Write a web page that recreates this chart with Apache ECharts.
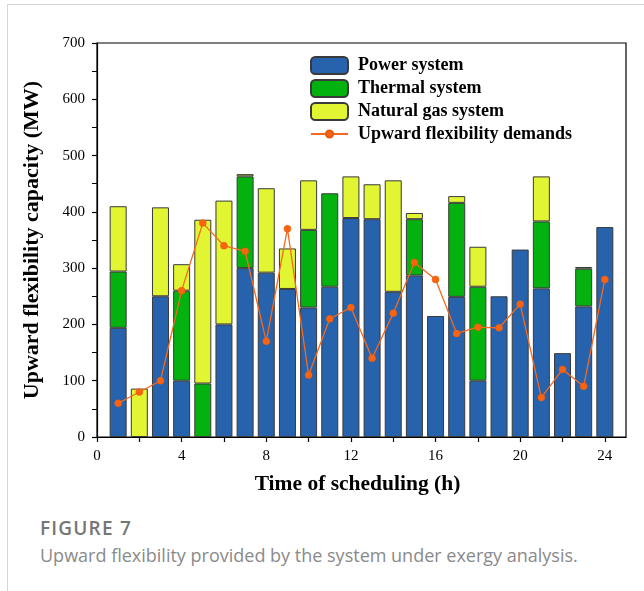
<!DOCTYPE html>
<html>
<head>
<meta charset="utf-8">
<script src="https://cdn.jsdelivr.net/npm/echarts@6/dist/echarts.min.js"></script>
<style>
  html, body { margin: 0; padding: 0; background: #fff; }
  #wrap { position: relative; width: 644px; height: 591px; overflow: hidden; }
  #frame { position: absolute; left: 7px; top: 4px; width: 700px; height: 700px; border-left: 1px solid #d6d6d6; border-top: 1px solid #d6d6d6; }
  #chart { position: absolute; left: 0; top: 0; width: 644px; height: 500px; }
  #cap1 { position: absolute; left: 40px; top: 515px; font-family: "Open Sans", sans-serif; font-size: 19px; letter-spacing: 1.2px; color: #767676; font-weight: 600; line-height: 26px; }
  #cap2 { position: absolute; left: 40px; top: 542px; font-family: "Open Sans", sans-serif; font-size: 18px; color: #8a8a8a; line-height: 26px; }
</style>
</head>
<body>
<div id="wrap">
  <div id="frame"></div>
  <div id="chart"></div>
  <div id="cap1">FIGURE 7</div>
  <div id="cap2">Upward flexibility provided by the system under exergy analysis.</div>
</div>
<script>
const hours = [1,2,3,4,5,6,7,8,9,10,11,12,13,14,15,16,17,18,19,20,21,22,23,24];
const powerSystem   = [194,0,250,100,0,200,300,292,263,230,267,389,387,258,287,215,249,100,250,333,264,149,232,373];
const thermalSystem = [100,0,0,160,95,0,163,0,0,138,166,0,0,0,100,0,167,167,0,0,119,0,67,0];
const gasSystem     = [116,86,158,47,291,220,4,150,72,88,0,74,62,198,11,0,12,71,0,0,80,0,3,0];
const demands       = [60,80,100,260,380,340,330,170,370,110,210,230,140,220,310,280,184,195,194,236,70,120,90,280];
const xTickLabels = ['0','4','8','12','16','20','24'];

// axis positions 0..25 (hour slots), bars sit on 1..24
const axisCats = [];
for (let h = 0; h <= 25; h++) axisCats.push(String(h));
const place = (arr) => axisCats.map((c) => {
  const i = hours.indexOf(Number(c));
  return (i < 0 || arr[i] === 0) ? '-' : arr[i];
});

const serif = '"Liberation Serif", "Times New Roman", serif';
const chart = echarts.init(document.getElementById('chart'), null, {renderer: 'canvas'});
const barStyle = (c) => ({ color: c, borderColor: '#3a3a3a', borderWidth: 1 });
const legendText = { fontFamily: serif, fontSize: 18, fontWeight: 'bold', color: '#000', padding: [0, 0, 0, 5] };

chart.setOption({
  animation: false,
  grid: { left: 97, right: 18, top: 43, bottom: 63, show: true, borderColor: '#000', borderWidth: 1.2 },
  legend: [
    {
      orient: 'vertical', left: 310, top: 56, padding: 0, itemWidth: 37, itemHeight: 17, itemGap: 4,
      textStyle: legendText,
      data: ['Power system', 'Thermal system', 'Natural gas system']
    },
    {
      orient: 'vertical', left: 310, top: 125, padding: 0, itemWidth: 37, itemHeight: 9, itemGap: 4,
      textStyle: legendText,
      data: ['Upward flexibility demands']
    }
  ],
  xAxis: {
    type: 'category', data: axisCats, boundaryGap: false,
    name: 'Time of scheduling (h)', nameLocation: 'middle', nameGap: 36,
    nameTextStyle: { fontFamily: serif, fontSize: 21.5, fontWeight: 'bold', color: '#000', padding: [0, 8, 0, 0] },
    axisLine: { lineStyle: { color: '#000', width: 1.2 } },
    axisTick: { show: true, length: 5, interval: 1, lineStyle: { color: '#000', width: 1.2 } },
    axisLabel: { fontFamily: serif, fontSize: 15, color: '#000', margin: 12,
      interval: (idx, v) => xTickLabels.includes(v) },
    splitLine: { show: false }
  },
  yAxis: {
    type: 'value', min: 0, max: 700, interval: 100,
    name: 'Upward flexibility capacity (MW)', nameLocation: 'middle', nameGap: 54, nameRotate: 90,
    nameTextStyle: { fontFamily: serif, fontSize: 22, fontWeight: 'bold', color: '#000' },
    axisLine: { show: true, lineStyle: { color: '#000', width: 1.2 } },
    axisTick: { show: true, length: 5, lineStyle: { color: '#000', width: 1.2 } },
    minorTick: { show: true, splitNumber: 2, length: 5, lineStyle: { color: '#000', width: 1 } },
    axisLabel: { fontFamily: serif, fontSize: 15, color: '#000', margin: 12 },
    splitLine: { show: false }
  },
  series: [
    { name: 'Power system', type: 'bar', stack: 'total', barWidth: 17, data: place(powerSystem), itemStyle: barStyle('#2763ad') },
    { name: 'Thermal system', type: 'bar', stack: 'total', barWidth: 17, data: place(thermalSystem), itemStyle: barStyle('#03b20e') },
    { name: 'Natural gas system', type: 'bar', stack: 'total', barWidth: 17, data: place(gasSystem), itemStyle: barStyle('#e2f532') },
    { name: 'Upward flexibility demands', type: 'line', data: place(demands),
      symbol: 'circle', symbolSize: 7, z: 5, connectNulls: false,
      lineStyle: { color: '#f5691e', width: 1.3 },
      itemStyle: { color: '#fa6410', borderColor: '#e85a0c', borderWidth: 0.5 } }
  ]
});
</script>
</body>
</html>
